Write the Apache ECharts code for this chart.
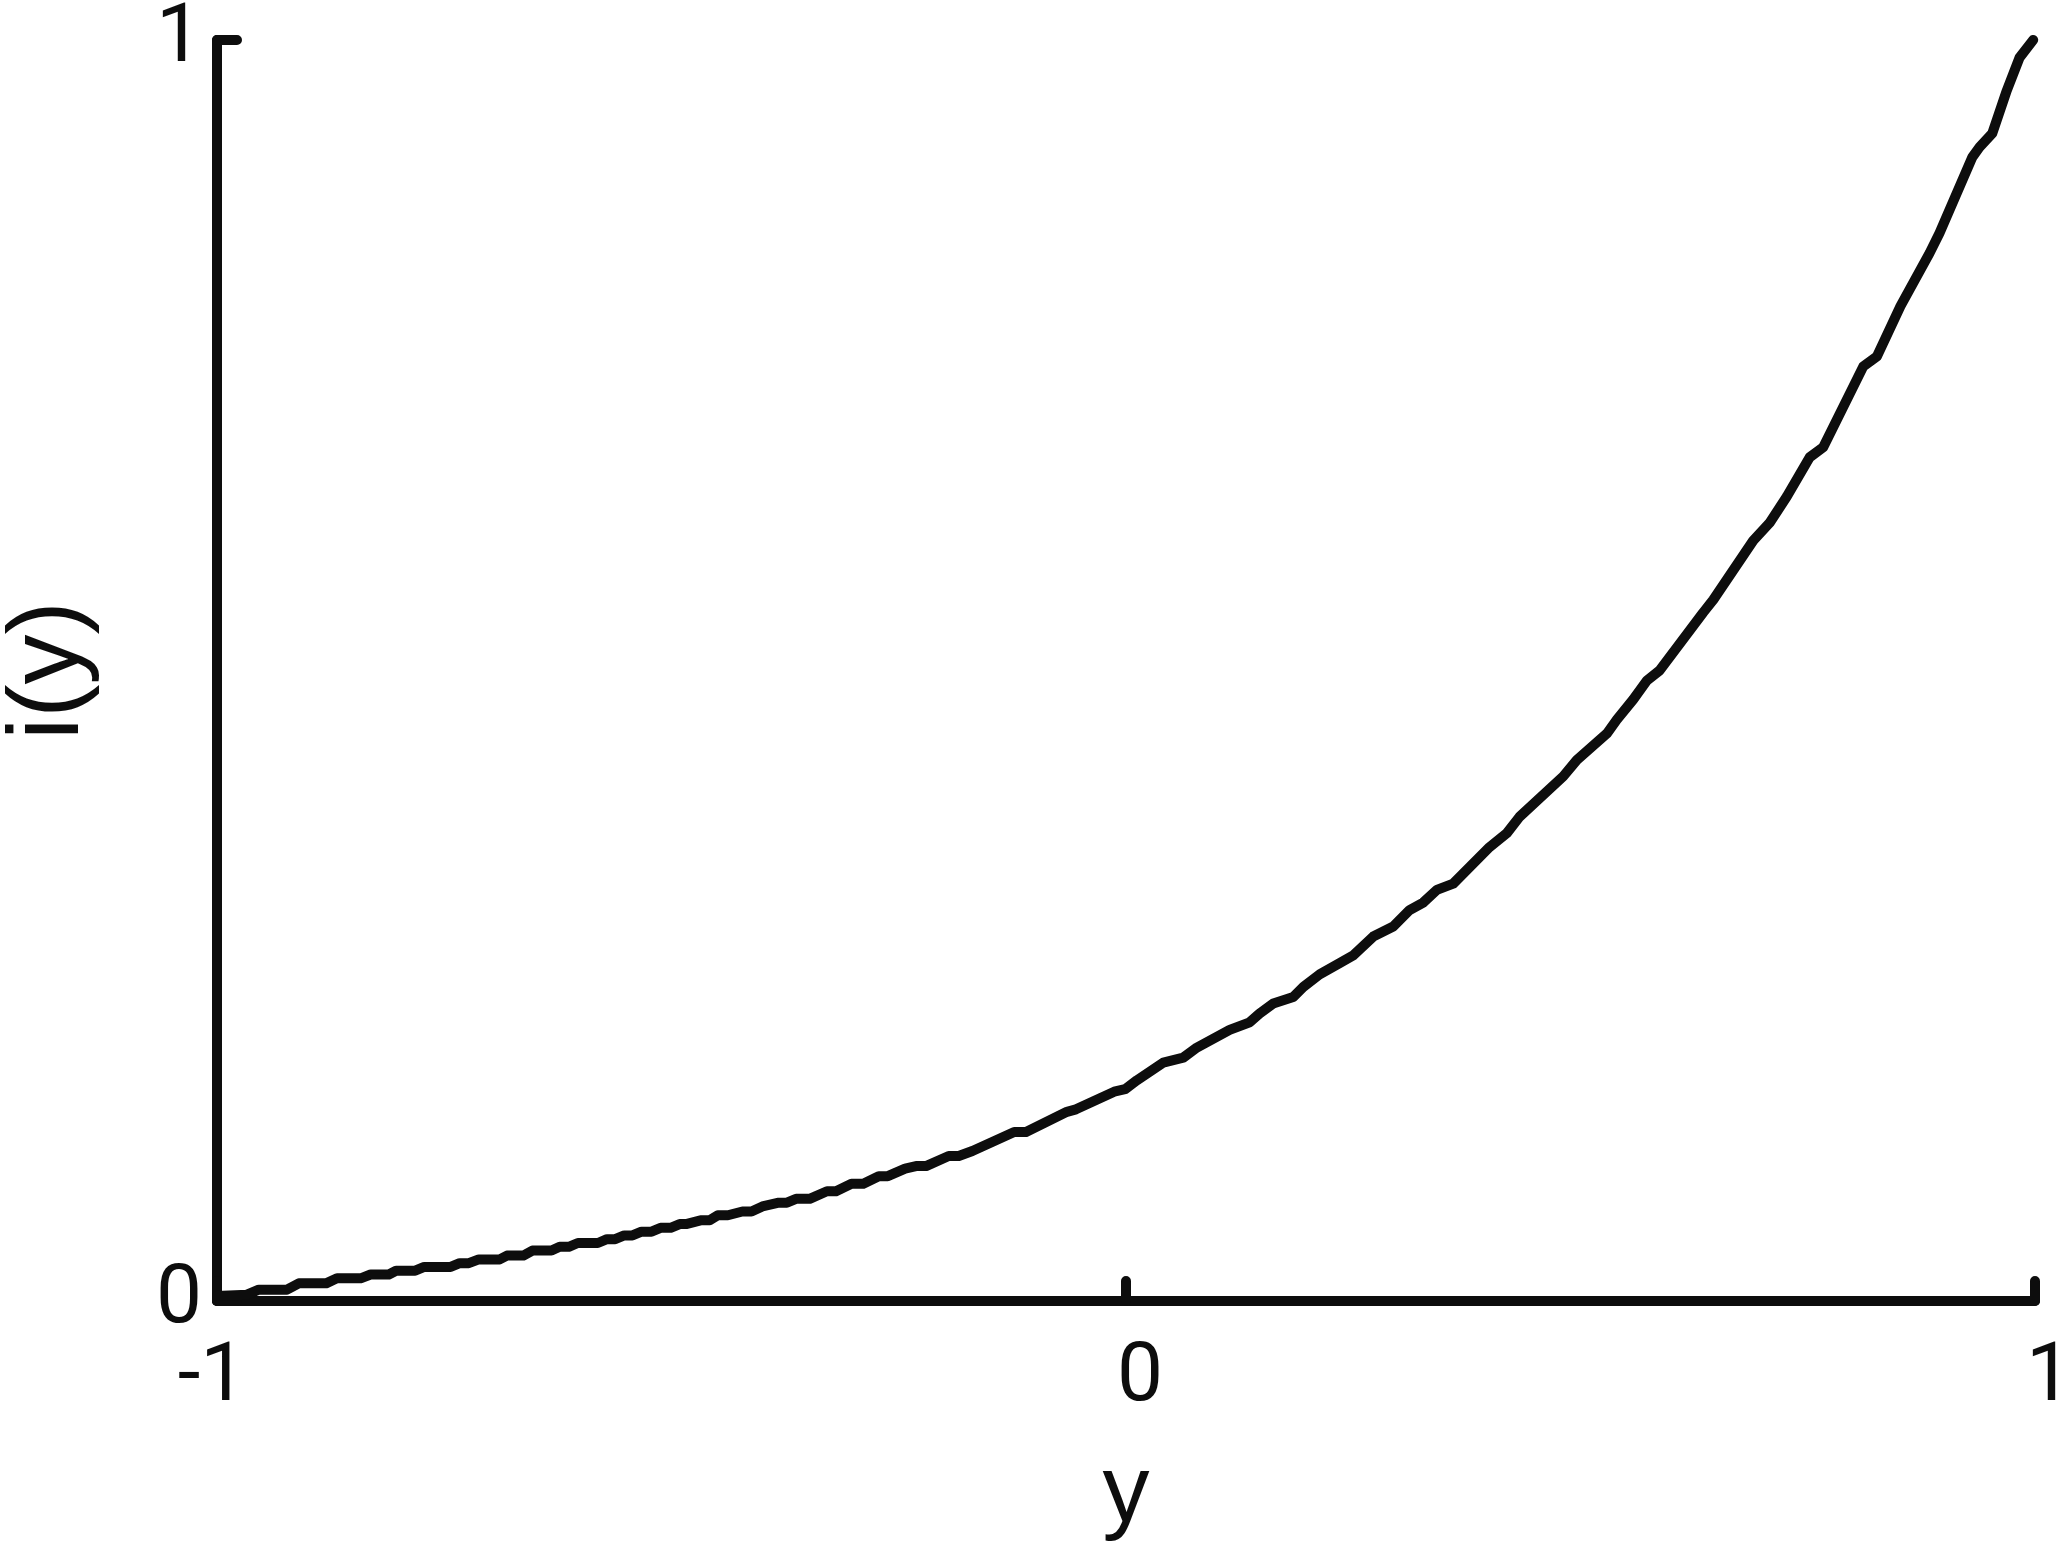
<!DOCTYPE html>
<html>
<head>
<meta charset="utf-8">
<script src="https://cdn.jsdelivr.net/npm/echarts@6/dist/echarts.min.js"></script>
<style>
html,body{margin:0;padding:0;background:#fff;}
#chart{width:2057px;height:1545px;}
</style>
</head>
<body>
<div id="chart"></div>
<script>
// x values (y on the horizontal axis)
var xValues = [-1.0, -0.967, -0.954, -0.923, -0.910, -0.880, -0.868, -0.842, -0.831, -0.811,
  -0.803, -0.782, -0.772, -0.743, -0.733, -0.723, -0.712, -0.689, -0.681, -0.663,
  -0.653, -0.632, -0.623, -0.613, -0.603, -0.581, -0.571, -0.562, -0.552, -0.543,
  -0.533, -0.522, -0.512, -0.501, -0.491, -0.484, -0.468, -0.458, -0.449, -0.438,
  -0.422, -0.412, -0.400, -0.382, -0.373, -0.363, -0.348, -0.329, -0.319, -0.302,
  -0.289, -0.272, -0.262, -0.243, -0.231, -0.220, -0.195, -0.184, -0.169, -0.123,
  -0.110, -0.065, -0.055, -0.013, -0.001, 0.012, 0.041, 0.063, 0.078, 0.114,
  0.136, 0.147, 0.162, 0.184, 0.195, 0.213, 0.235, 0.250, 0.272, 0.294,
  0.312, 0.327, 0.342, 0.360, 0.400, 0.419, 0.433, 0.481, 0.496, 0.529,
  0.540, 0.558, 0.573, 0.587, 0.635, 0.646, 0.690, 0.708, 0.727, 0.752,
  0.767, 0.811, 0.826, 0.852, 0.884, 0.895, 0.931, 0.939, 0.953, 0.969,
  0.983, 0.998];
// i(y) values
var iValues = [0.004, 0.005, 0.009, 0.009, 0.014, 0.014, 0.018, 0.018, 0.021, 0.021,
  0.024, 0.024, 0.027, 0.027, 0.030, 0.030, 0.033, 0.033, 0.036, 0.036,
  0.040, 0.040, 0.043, 0.043, 0.046, 0.046, 0.049, 0.049, 0.052, 0.052,
  0.055, 0.055, 0.058, 0.058, 0.061, 0.061, 0.064, 0.064, 0.068, 0.068,
  0.071, 0.071, 0.075, 0.078, 0.078, 0.081, 0.081, 0.087, 0.087, 0.093,
  0.093, 0.099, 0.099, 0.105, 0.107, 0.107, 0.115, 0.115, 0.119, 0.134,
  0.134, 0.150, 0.152, 0.166, 0.168, 0.175, 0.189, 0.193, 0.201, 0.215,
  0.221, 0.228, 0.236, 0.241, 0.249, 0.259, 0.268, 0.274, 0.289, 0.297,
  0.310, 0.316, 0.326, 0.331, 0.360, 0.371, 0.384, 0.416, 0.429, 0.450,
  0.461, 0.477, 0.492, 0.500, 0.546, 0.556, 0.603, 0.617, 0.638, 0.669,
  0.677, 0.741, 0.749, 0.789, 0.831, 0.847, 0.907, 0.915, 0.926, 0.960,
  0.986, 1.0];
var xTicks = [-1, 0, 1];
var yTicks = [0, 1];
var xAxisTitle = 'y';
var yAxisTitle = 'i(y)';

var chart = echarts.init(document.getElementById('chart'), null, {renderer: 'canvas'});
var lineCol = '#0d0d0d';
var tickFont = 'Roboto';
var nameFont = 'Liberation Sans';
var axisLine = {show: true, onZero: false, lineStyle: {color: lineCol, width: 10, cap: 'round'}};
var axisTick = {show: true, inside: true, length: 20, lineStyle: {color: lineCol, width: 10, cap: 'round'}};

chart.setOption({
  animation: false,
  backgroundColor: '#fff',
  grid: {left: 217, right: 22, top: 40, bottom: 244, containLabel: false, outerBoundsMode: 'none'},
  xAxis: {
    type: 'value', min: xTicks[0], max: xTicks[xTicks.length - 1], interval: 1,
    axisLine: axisLine, axisTick: axisTick, splitLine: {show: false},
    name: xAxisTitle, nameLocation: 'middle', nameGap: 147,
    nameTextStyle: {fontFamily: nameFont, fontSize: 94, color: lineCol},
    axisLabel: {
      margin: 37, fontFamily: tickFont, fontSize: 82, color: lineCol,
      formatter: function (v) { return v < 0 ? '{n|' + v + '}' : '{p|' + v + '}'; },
      rich: {
        n: {fontFamily: tickFont, fontSize: 82, color: lineCol, padding: [0, 10, 0, 0]},
        p: {fontFamily: tickFont, fontSize: 82, color: lineCol, padding: [0, 0, 0, 28]}
      }
    }
  },
  yAxis: {
    type: 'value', min: yTicks[0], max: yTicks[yTicks.length - 1], interval: 1,
    axisLine: axisLine, axisTick: axisTick, splitLine: {show: false},
    name: yAxisTitle, nameLocation: 'middle', nameGap: 117, nameRotate: 90,
    nameTextStyle: {fontFamily: nameFont, fontSize: 100, color: lineCol},
    axisLabel: {margin: 15, fontFamily: tickFont, fontSize: 82, color: lineCol, padding: [0, 0, 24, 0]}
  },
  series: [{
    type: 'line',
    data: xValues.map(function (x, i) { return [x, iValues[i]]; }),
    showSymbol: false,
    lineStyle: {color: lineCol, width: 10, join: 'round', cap: 'round'},
    clip: false
  }]
});
</script>
</body>
</html>
